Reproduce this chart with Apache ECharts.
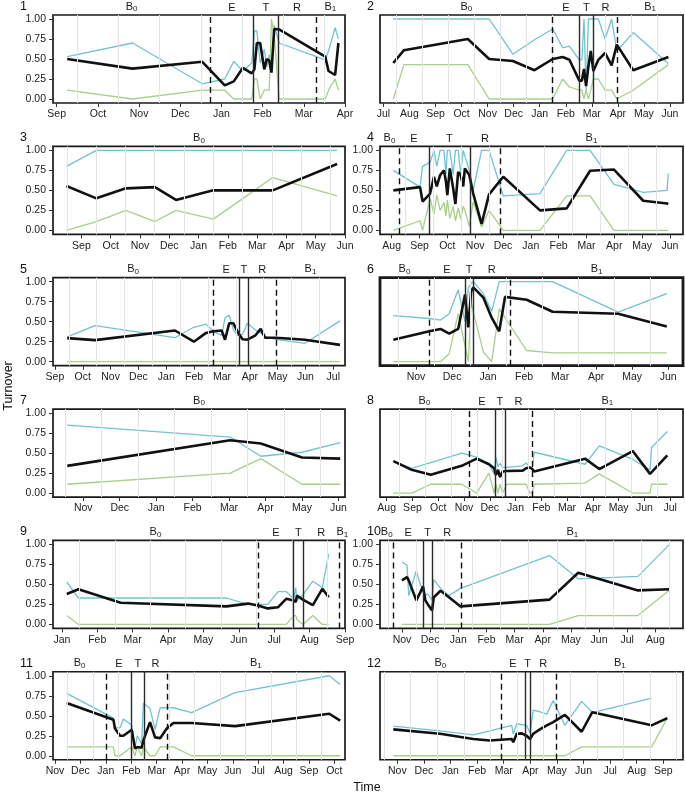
<!DOCTYPE html>
<html>
<head>
<meta charset="utf-8">
<title>Turnover over time</title>
<script src="https://cdn.jsdelivr.net/npm/echarts@6/dist/echarts.min.js"></script>
<style>
  html, body { margin: 0; padding: 0; background: #fff; }
  #chart { width: 685px; height: 797px; }
</style>
</head>
<body>
<div id="chart"></div>
<script>
// x values are months after the first labelled month of each panel (0 = first tick)
// phase bounds: B0|E (dashed), E|T (solid), T|R (solid), R|B1 (dashed)

const p1Months = ['Sep', 'Oct', 'Nov', 'Dec', 'Jan', 'Feb', 'Mar', 'Apr'];
const p1Range = [-0.09, 7.0];
const p1Phases = [3.73, 4.78, 5.375, 6.29];
const p1X = [0.255, 1.84, 3.535, 4.08, 4.30, 4.52, 4.735, 4.80, 4.86, 4.94, 5.04, 5.10, 5.16, 5.215, 5.28, 5.40, 6.52, 6.60, 6.76, 6.84];
const p1Black = [0.50, 0.38, 0.465, 0.17, 0.22, 0.39, 0.32, 0.37, 0.70, 0.70, 0.37, 0.50, 0.48, 0.33, 0.875, 0.87, 0.53, 0.35, 0.30, 0.70];
const p1Blue = [0.53, 0.70, 0.19, 0.25, 0.47, 0.35, 0.45, 0.85, 0.85, 0.45, 0.62, 0.40, 0.55, 0.33, 0.92, 0.70, 0.49, 0.60, 0.89, 0.75];
const p1Green = [0.11, 0.0, 0.11, 0.11, 0.0, 0.0, 0.0, 0.25, 0.25, 0.0, 0.11, 0.11, 0.11, 1.0, 0.8, 0.0, 0.0, 0.11, 0.25, 0.11];

const p2Months = ['Jul', 'Aug', 'Sep', 'Oct', 'Nov', 'Dec', 'Jan', 'Feb', 'Mar', 'Apr', 'May', 'Jun'];
const p2Range = [-0.13, 11.5];
const p2Phases = [6.50, 7.52, 8.06, 8.98];
const p2X = [0.38, 0.79, 3.24, 4.06, 4.97, 5.80, 6.50, 6.88, 7.14, 7.52, 7.62, 7.70, 7.78, 7.87, 7.96, 8.06, 8.25, 8.51, 8.76, 8.96, 9.59, 10.94];
const p2Black = [0.45, 0.61, 0.75, 0.50, 0.475, 0.36, 0.50, 0.525, 0.49, 0.23, 0.23, 0.375, 0.16, 0.41, 0.60, 0.35, 0.49, 0.575, 0.42, 0.68, 0.36, 0.525];
const p2Blue = [1.0, 1.0, 1.0, 1.0, 0.56, 0.74, 0.875, 0.64, 0.66, 0.49, 0.49, 1.0, 0.10, 1.0, 1.0, 1.0, 1.0, 0.75, 1.0, 0.60, 0.83, 0.44];
const p2Green = [0.0, 0.43, 0.43, 0.0, 0.0, 0.0, 0.0, 0.25, 0.15, 0.11, 0.11, 0.0, 0.11, 0.0, 0.11, 0.25, 0.25, 0.11, 0.11, 0.0, 0.11, 0.43];

const p3Months = ['Sep', 'Oct', 'Nov', 'Dec', 'Jan', 'Feb', 'Mar', 'Apr', 'May', 'Jun'];
const p3Range = [-0.97, 9.0];
const p3Phases = [];
const p3X = [-0.51, 0.51, 1.52, 2.51, 3.23, 4.50, 5.52, 6.53, 8.73];
const p3Black = [0.554, 0.40, 0.525, 0.54, 0.38, 0.50, 0.50, 0.50, 0.83];
const p3Blue = [0.80, 1.0, 1.0, 1.0, 1.0, 1.0, 1.0, 1.0, 1.0];
const p3Green = [0.0, 0.11, 0.25, 0.11, 0.25, 0.14, 0.40, 0.66, 0.43];

const p4Months = ['Aug', 'Sep', 'Oct', 'Nov', 'Dec', 'Jan', 'Feb', 'Mar', 'Apr', 'May', 'Jun'];
const p4Range = [-0.42, 10.47];
const p4Phases = [0.26, 1.34, 2.81, 3.89];
const p4X = [0.06, 1.02, 1.11, 1.38, 1.52, 1.62, 1.74, 1.88, 1.95, 2.0, 2.09, 2.21, 2.29, 2.39, 2.48, 2.57, 2.63, 2.79, 2.93, 3.23, 3.50, 4.01, 5.33, 6.29, 7.13, 7.99, 9.04, 9.90, 9.94];
const p4Black = [0.50, 0.54, 0.36, 0.46, 0.67, 0.55, 0.69, 0.75, 0.61, 0.44, 0.775, 0.525, 0.33, 0.73, 0.69, 0.55, 0.775, 0.69, 0.46, 0.08, 0.45, 0.67, 0.25, 0.275, 0.745, 0.76, 0.37, 0.335, 0.33];
const p4Blue = [0.75, 0.54, 0.80, 0.85, 1.0, 0.80, 1.0, 1.0, 0.70, 1.0, 1.0, 0.70, 1.0, 1.0, 0.70, 1.0, 1.0, 0.75, 0.50, 1.0, 1.0, 0.43, 0.46, 1.0, 1.0, 0.575, 0.475, 0.50, 0.71];
const p4Green = [0.0, 0.12, 0.0, 0.40, 0.20, 0.44, 0.25, 0.35, 0.18, 0.38, 0.15, 0.30, 0.12, 0.28, 0.14, 0.30, 0.25, 0.05, 0.36, 0.04, 0.25, 0.0, 0.0, 0.43, 0.43, 0.0, 0.0, 0.0, 0.0];

const p5Months = ['Sep', 'Oct', 'Nov', 'Dec', 'Jan', 'Feb', 'Mar', 'Apr', 'May', 'Jun', 'Jul'];
const p5Range = [-0.07, 10.42];
const p5Phases = [5.69, 6.62, 6.95, 7.94];
const p5X = [0.44, 1.44, 4.31, 4.99, 5.43, 5.69, 5.99, 6.11, 6.26, 6.41, 6.55, 6.62, 6.74, 6.91, 7.19, 7.39, 7.55, 7.94, 8.98, 10.24];
const p5Black = [0.295, 0.27, 0.39, 0.25, 0.36, 0.38, 0.39, 0.275, 0.48, 0.48, 0.38, 0.34, 0.28, 0.275, 0.325, 0.41, 0.30, 0.30, 0.275, 0.21];
const p5Blue = [0.31, 0.45, 0.30, 0.43, 0.47, 0.38, 0.33, 0.55, 0.58, 0.40, 0.33, 0.35, 0.34, 0.48, 0.40, 0.36, 0.31, 0.28, 0.23, 0.51];
const p5Green = [0, 0, 0, 0, 0, 0, 0, 0, 0, 0, 0, 0, 0, 0, 0, 0, 0, 0, 0, 0];

const p6Months = ['Nov', 'Dec', 'Jan', 'Feb', 'Mar', 'Apr', 'May', 'Jun'];
const p6Range = [-1.0, 7.41];
const p6Phases = [0.36, 1.36, 1.59, 2.61];
const p6X = [-0.63, 0.37, 0.68, 0.92, 1.17, 1.36, 1.45, 1.53, 1.59, 1.87, 2.10, 2.31, 2.47, 3.07, 3.79, 5.61, 6.96];
const p6Black = [0.275, 0.38, 0.41, 0.35, 0.41, 0.84, 0.43, 0.88, 0.93, 0.80, 0.55, 0.38, 0.81, 0.775, 0.625, 0.60, 0.44];
const p6Blue = [0.575, 0.54, 0.52, 0.60, 0.90, 0.50, 0.92, 0.98, 1.0, 0.85, 0.63, 1.0, 1.0, 1.0, 1.0, 0.62, 0.85];
const p6Green = [0.0, 0.0, 0.0, 0.10, 0.60, 0.20, 0.0, 0.75, 0.62, 0.12, 0.0, 0.66, 0.55, 0.14, 0.11, 0.11, 0.11];

const p7Months = ['Nov', 'Dec', 'Jan', 'Feb', 'Mar', 'Apr', 'May', 'Jun'];
const p7Range = [-0.83, 7.18];
const p7Phases = [];
const p7X = [-0.44, 4.03, 4.87, 6.0, 7.05];
const p7Black = [0.34, 0.66, 0.62, 0.445, 0.43];
const p7Blue = [0.85, 0.70, 0.46, 0.51, 0.63];
const p7Green = [0.11, 0.25, 0.43, 0.11, 0.11];

const p8Months = ['Aug', 'Sep', 'Oct', 'Nov', 'Dec', 'Jan', 'Feb', 'Mar', 'Apr', 'May', 'Jun', 'Jul'];
const p8Range = [-0.26, 11.5];
const p8Phases = [3.19, 4.20, 4.59, 5.63];
const p8X = [0.26, 0.97, 1.71, 2.91, 3.49, 3.97, 4.17, 4.24, 4.32, 4.40, 4.50, 4.66, 5.28, 5.41, 5.56, 5.65, 5.72, 7.70, 8.25, 9.55, 10.22, 10.28, 10.89];
const p8Black = [0.40, 0.29, 0.23, 0.34, 0.43, 0.36, 0.31, 0.225, 0.29, 0.20, 0.27, 0.275, 0.28, 0.31, 0.32, 0.30, 0.27, 0.43, 0.30, 0.525, 0.24, 0.26, 0.47];
const p8Blue = [0.40, 0.31, 0.38, 0.50, 0.45, 0.36, 0.24, 0.45, 0.33, 0.37, 0.32, 0.32, 0.34, 0.375, 0.32, 0.30, 0.51, 0.36, 0.59, 0.42, 0.29, 0.57, 0.77];
const p8Green = [0.0, 0.0, 0.11, 0.11, 0.0, 0.25, 0.0, 0.11, 0.0, 0.11, 0.0, 0.11, 0.11, 0.11, 0.0, 0.0, 0.11, 0.125, 0.24, 0.0, 0.0, 0.11, 0.11];

const p9Months = ['Jan', 'Feb', 'Mar', 'Apr', 'May', 'Jun', 'Jul', 'Aug', 'Sep'];
const p9Range = [-0.25, 8.0];
const p9Phases = [5.54, 6.55, 6.81, 7.85];
const p9X = [0.14, 0.47, 1.66, 4.65, 5.26, 5.54, 5.82, 6.11, 6.34, 6.55, 6.61, 6.64, 6.81, 7.09, 7.36, 7.54];
const p9Black = [0.38, 0.44, 0.27, 0.225, 0.26, 0.235, 0.20, 0.215, 0.32, 0.30, 0.28, 0.36, 0.31, 0.24, 0.445, 0.34];
const p9Blue = [0.53, 0.33, 0.33, 0.33, 0.25, 0.25, 0.25, 0.41, 0.41, 0.32, 0.46, 0.30, 0.37, 0.54, 0.46, 0.88];
const p9Green = [0.11, 0.0, 0.0, 0.0, 0.0, 0.0, 0.0, 0.0, 0.0, 0.11, 0.11, 0.06, 0.0, 0.11, 0.0, 0.0];

const p10Months = ['Nov', 'Dec', 'Jan', 'Feb', 'Mar', 'Apr', 'May', 'Jun', 'Jul', 'Aug'];
const p10Range = [-0.78, 9.98];
const p10Phases = [-0.30, 0.74, 1.09, 2.12];
const p10X = [0.0, 0.18, 0.24, 0.51, 0.65, 0.75, 0.83, 0.92, 1.07, 1.13, 1.37, 1.67, 2.08, 5.24, 6.26, 8.38, 9.50];
const p10Black = [0.55, 0.59, 0.55, 0.30, 0.40, 0.475, 0.30, 0.25, 0.175, 0.34, 0.42, 0.34, 0.225, 0.31, 0.645, 0.425, 0.44];
const p10Blue = [0.78, 0.74, 0.36, 0.67, 0.50, 0.42, 0.36, 0.38, 0.30, 0.56, 0.45, 0.36, 0.45, 0.86, 0.57, 0.60, 1.0];
const p10Green = [0, 0, 0, 0, 0, 0, 0, 0, 0, 0, 0, 0, 0, 0, 0.11, 0.11, 0.43];

const p11Months = ['Nov', 'Dec', 'Jan', 'Feb', 'Mar', 'Apr', 'May', 'Jun', 'Jul', 'Aug', 'Sep', 'Oct'];
const p11Range = [-0.08, 11.42];
const p11Phases = [2.01, 3.02, 3.51, 4.40];
const p11X = [0.46, 2.30, 2.36, 2.56, 2.69, 3.02, 3.15, 3.24, 3.41, 3.48, 3.74, 3.94, 4.14, 4.40, 4.66, 5.38, 7.09, 10.80, 11.23];
const p11Black = [0.66, 0.45, 0.34, 0.25, 0.25, 0.325, 0.09, 0.11, 0.10, 0.19, 0.42, 0.23, 0.22, 0.34, 0.41, 0.41, 0.37, 0.525, 0.44];
const p11Blue = [0.78, 0.47, 0.35, 0.35, 0.46, 0.38, 0.10, 0.25, 0.15, 0.66, 0.59, 0.33, 0.60, 0.60, 0.60, 0.54, 0.79, 1.0, 0.89];
const p11Green = [0.11, 0.11, 0.0, 0.0, 0.03, 0.11, 0.0, 0.11, 0.0, 0.11, 0.0, 0.0, 0.11, 0.11, 0.11, 0.0, 0.0, 0.0, 0.0];

const p12Months = ['Nov', 'Dec', 'Jan', 'Feb', 'Mar', 'Apr', 'May', 'Jun', 'Jul', 'Aug', 'Sep'];
const p12Range = [-0.65, 10.74];
const p12Phases = [3.89, 4.80, 4.99, 5.99];
const p12X = [-0.15, 1.61, 2.86, 3.48, 4.30, 4.36, 4.49, 4.68, 4.86, 4.99, 5.11, 5.36, 5.62, 5.86, 6.30, 6.93, 7.33, 9.56, 10.15];
const p12Black = [0.33, 0.275, 0.21, 0.19, 0.21, 0.17, 0.275, 0.28, 0.25, 0.21, 0.275, 0.33, 0.38, 0.42, 0.51, 0.30, 0.545, 0.38, 0.47];
const p12Blue = [0.37, 0.31, 0.26, 0.31, 0.38, 0.27, 0.40, 0.39, 0.38, 0.28, 0.57, 0.55, 0.52, 0.69, 0.38, 0.68, 0.54, 0.72, null];
const p12Green = [0, 0, 0, 0, 0, 0, 0, 0, 0, 0, 0, 0, 0, 0, 0, 0.11, 0.11, 0.11, 0.47];

const yTicks = [0, 0.25, 0.5, 0.75, 1];
const phaseNames = ['B0', 'E', 'T', 'R', 'B1'];

const panels = [
  { months: p1Months, range: p1Range, phases: p1Phases, x: p1X, black: p1Black, blue: p1Blue, green: p1Green },
  { months: p2Months, range: p2Range, phases: p2Phases, x: p2X, black: p2Black, blue: p2Blue, green: p2Green },
  { months: p3Months, range: p3Range, phases: p3Phases, x: p3X, black: p3Black, blue: p3Blue, green: p3Green },
  { months: p4Months, range: p4Range, phases: p4Phases, x: p4X, black: p4Black, blue: p4Blue, green: p4Green },
  { months: p5Months, range: p5Range, phases: p5Phases, x: p5X, black: p5Black, blue: p5Blue, green: p5Green },
  { months: p6Months, range: p6Range, phases: p6Phases, x: p6X, black: p6Black, blue: p6Blue, green: p6Green },
  { months: p7Months, range: p7Range, phases: p7Phases, x: p7X, black: p7Black, blue: p7Blue, green: p7Green },
  { months: p8Months, range: p8Range, phases: p8Phases, x: p8X, black: p8Black, blue: p8Blue, green: p8Green },
  { months: p9Months, range: p9Range, phases: p9Phases, x: p9X, black: p9Black, blue: p9Blue, green: p9Green },
  { months: p10Months, range: p10Range, phases: p10Phases, x: p10X, black: p10Black, blue: p10Blue, green: p10Green },
  { months: p11Months, range: p11Range, phases: p11Phases, x: p11X, black: p11Black, blue: p11Blue, green: p11Green },
  { months: p12Months, range: p12Range, phases: p12Phases, x: p12X, black: p12Black, blue: p12Blue, green: p12Green }
];
// which panels carry y tick labels
const yLabelled = [true, false, true, true, true, false, true, false, true, true, true, false];

const FONT = '"Liberation Sans", Arial, sans-serif';
const BLUE = '#72c3d1';
const GREEN = '#a8cf8b';
const colLeft = [53, 380];
const colWidth = [292, 303];
const rowTop = r => 15 + r * 131.35;

const grid = [], xAxis = [], yAxis = [], series = [], title = [];

panels.forEach((p, i) => {
  const col = i % 2, row = Math.floor(i / 2);
  const top = rowTop(row);

  grid.push({
    left: colLeft[col], top: top, width: colWidth[col], height: 88,
    show: true, borderColor: '#1a1a1a', borderWidth: i === 5 ? 2.8 : 1.7,
    backgroundColor: 'transparent'
  });

  const ticks = p.months.map((m, k) => k);
  xAxis.push({
    type: 'value', gridIndex: i, min: p.range[0], max: p.range[1],
    axisLine: { show: false, onZero: false },
    splitLine: { show: false },
    axisTick: { customValues: ticks, length: 4, lineStyle: { color: '#333', width: 1 } },
    axisLabel: {
      customValues: ticks, formatter: v => p.months[Math.round(v)] || '',
      fontSize: 10.5, color: '#222', margin: 6, fontFamily: FONT
    }
  });

  const lab = yLabelled[i];
  yAxis.push({
    type: 'value', gridIndex: i, min: -0.05, max: 1.05,
    axisLine: { show: false, onZero: false },
    splitLine: { show: false },
    axisTick: { show: lab, customValues: yTicks, length: 4, lineStyle: { color: '#333', width: 1 } },
    axisLabel: {
      show: lab, customValues: yTicks, formatter: v => v.toFixed(2),
      fontSize: 10.5, color: '#222', margin: 7, fontFamily: FONT
    }
  });

  // light vertical guides at mid-month
  const guides = [];
  for (let k = Math.floor(p.range[0]); k < p.range[1]; k++) {
    const v = k + 0.5;
    if (v > p.range[0] && v < p.range[1]) {
      guides.push({ xAxis: v, lineStyle: { color: '#e4e4e4', width: 1, type: 'solid' } });
    }
  }
  // phase boundaries
  const bounds = p.phases.map((v, k) => ({
    xAxis: v,
    lineStyle: (k === 1 || k === 2)
      ? { color: '#2b2b2b', width: 1.4, type: 'solid' }
      : { color: '#111', width: 1.4, type: [6, 4] }
  }));
  // phase labels above the panel
  const edges = [p.range[0]].concat(p.phases, [p.range[1]]);
  const names = p.phases.length ? phaseNames : ['B0'];
  const areas = names.map((n, k) => [{ name: n, xAxis: edges[k] }, { xAxis: edges[k + 1] }]);

  series.push({
    type: 'line', xAxisIndex: i, yAxisIndex: i, data: [], z: 1, silent: true,
    markLine: {
      silent: true, symbol: ['none', 'none'], label: { show: false },
      emphasis: { disabled: true }, animation: false,
      data: guides.concat(bounds)
    },
    markArea: {
      silent: true, animation: false,
      itemStyle: { color: 'rgba(0,0,0,0)' },
      label: {
        show: true, position: 'top', distance: 2, color: '#1a1a1a',
        fontSize: 11, fontFamily: FONT,
        formatter: prm => prm.name.charAt(0) === 'B' ? 'B{s|' + prm.name.charAt(1) + '}' : prm.name,
        rich: { s: { fontSize: 8, fontFamily: FONT, color: '#1a1a1a', padding: [5, 0, 0, 0] } }
      },
      data: areas
    }
  });

  const pts = arr => p.x.map((x, k) => [x, arr[k]]);
  series.push({
    type: 'line', xAxisIndex: i, yAxisIndex: i, data: pts(p.blue), z: 3,
    showSymbol: false, silent: true, lineStyle: { color: BLUE, width: 1.3 }
  });
  series.push({
    type: 'line', xAxisIndex: i, yAxisIndex: i, data: pts(p.green), z: 3,
    showSymbol: false, silent: true, lineStyle: { color: GREEN, width: 1.3 }
  });
  series.push({
    type: 'line', xAxisIndex: i, yAxisIndex: i, data: pts(p.black), z: 4,
    showSymbol: false, silent: true, lineStyle: { color: '#111', width: 2.6 }
  });

  title.push({
    text: String(i + 1),
    left: col === 0 ? 20 : 367,
    top: top - 15,
    padding: 0,
    textStyle: { fontSize: 12.5, fontWeight: 'normal', color: '#111', fontFamily: FONT }
  });
});

const chart = echarts.init(document.getElementById('chart'));
chart.setOption({
  animation: false,
  backgroundColor: '#fff',
  textStyle: { fontFamily: FONT },
  title: title,
  grid: grid,
  xAxis: xAxis,
  yAxis: yAxis,
  series: series,
  graphic: [
    {
      type: 'text', x: 9, y: 386, rotation: Math.PI / 2,
      style: { text: 'Turnover', font: '12.5px ' + FONT, fill: '#111',
               align: 'center', verticalAlign: 'middle', textAlign: 'center', textVerticalAlign: 'middle' }
    },
    {
      type: 'text', x: 367, y: 788,
      style: { text: 'Time', font: '12.5px ' + FONT, fill: '#111',
               align: 'center', verticalAlign: 'middle', textAlign: 'center', textVerticalAlign: 'middle' }
    }
  ]
});
</script>
</body>
</html>
